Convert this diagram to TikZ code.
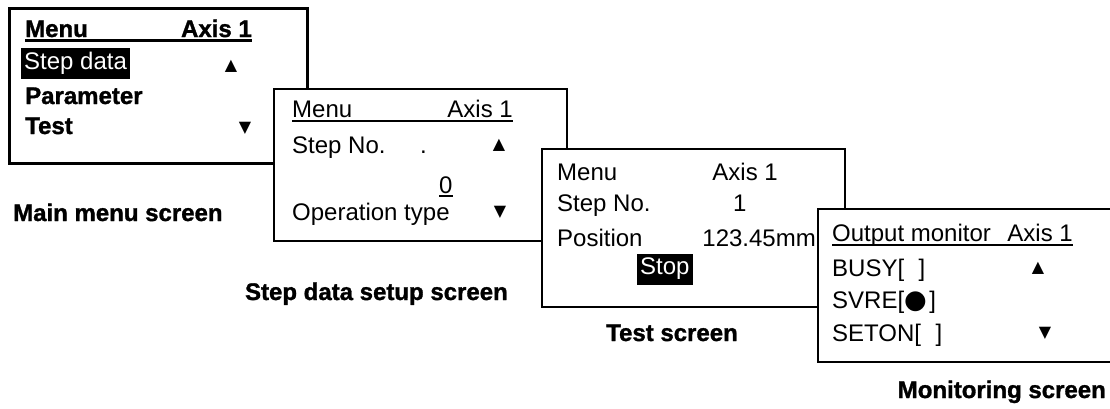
\documentclass[tikz,border=0pt]{standalone}
\usepackage{fontspec}
\setmainfont{Liberation Sans}
\newfontfamily\symfont{DejaVu Sans}
\newfontfamily\heavyfont{Liberation Sans Bold}[FakeBold=1.3]
\begin{document}
\begin{tikzpicture}[x=1pt,y=-1pt,
  screenA/.style={draw=black,fill=white,line width=3pt},
  screen/.style={draw=black,fill=white,line width=1.8pt},
  boldtxt/.style={font=\fontsize{24}{26}\selectfont\heavyfont,inner sep=0pt,anchor=base west},
  lcd/.style={font=\fontsize{24}{26}\selectfont,inner sep=0pt,anchor=base west},
  lcdr/.style={lcd,anchor=base east},
  caption/.style={font=\fontsize{24}{26}\selectfont\heavyfont,inner sep=0pt,anchor=base west},
  arrowsym/.style={font=\symfont\fontsize{16}{17}\selectfont,inner sep=0pt,anchor=center},
  inverse/.style={fill=black,text=white,inner xsep=3pt,inner ysep=0pt,anchor=west,minimum height=31pt},
  uline/.style={line width=1.6pt}]
\useasboundingbox (0,0) rectangle (1110,408);
% ---------- Main menu screen ----------
\draw[screenA] (9,8) rectangle (307,163);
\node[boldtxt] (amenu) at (25,37) {Menu};
\node[boldtxt,anchor=base east] (aaxis) at (252,37) {Axis 1};
\draw[line width=2.4pt] ([yshift=-3.5pt]amenu.base west) -- ([yshift=-3.5pt]aaxis.base east);
\node[inverse,font=\fontsize{24}{26}\selectfont] (astep) at (21,63) {Step data};
\node[arrowsym] (aup) at (231,66) {▲};
\node[boldtxt] (apar) at (25,104) {Parameter};
\node[boldtxt] (atest) at (25,134) {Test};
\node[arrowsym] (adown) at (245,128) {▼};
\node[caption] (acap) at (13,221) {Main menu screen};
% ---------- Step data setup screen ----------
\draw[screen] (274,89) rectangle (567,241);
\node[lcd] (bmenu) at (292,117) {Menu};
\node[lcdr] (baxis) at (513,117) {Axis 1};
\draw[uline] ([yshift=-4pt]bmenu.base west) -- ([yshift=-4pt]baxis.base east);
\node[lcd] (bstep) at (292,153) {Step No.};
\node[lcd] (bdot) at (420,153) {.};
\node[arrowsym] (bup) at (499,145) {▲};
\node[lcd] (bzero) at (439,193) {0};
\draw[line width=1.2pt] ([yshift=-3pt]bzero.base west) -- ([yshift=-3pt]bzero.base east);
\node[lcd] (bop) at (292,220) {Operation type};
\node[arrowsym] (bdown) at (500,212) {▼};
\node[caption,anchor=base east] (bcap) at (508,300) {Step data setup screen};
% ---------- Test screen ----------
\draw[screen] (542,149) rectangle (845,307);
\node[lcd] (cmenu) at (557,180) {Menu};
\node[lcdr] (caxis) at (778,180) {Axis 1};
\node[lcd] (cstep) at (557,211) {Step No.};
\node[lcd] (cone) at (733,211) {1};
\node[lcd] (cpos) at (557,246) {Position};
\node[lcdr] (cval) at (816,246) {123.45mm};
\node[inverse,font=\fontsize{24}{26}\selectfont] (cstop) at (637,269) {Stop};
\node[caption,anchor=base] (ccap) at (672,341) {Test screen};
% ---------- Monitoring screen ----------
\draw[screen] (818,209) rectangle (1125,362);
\node[lcd] (dout) at (832,241) {Output monitor};
\node[lcdr] (daxis) at (1073,241) {Axis 1};
\draw[uline] ([yshift=-4pt]dout.base west) -- ([yshift=-4pt]daxis.base east);
\node[lcd] (dbusy) at (832,276) {BUSY[\hspace{0.6em}]};
\node[arrowsym] (dup) at (1038,268) {▲};
\node[lcd] (dsvre) at (832,308) {SVRE[{\symfont\fontsize{26}{28}\selectfont ●}\hspace{0.1em}]};
\node[lcd] (dseton) at (832,341) {SETON[\hspace{0.6em}]};
\node[arrowsym] (ddown) at (1045,333) {▼};
\node[caption,anchor=base east] (dcap) at (1106,398) {Monitoring screen};
\end{tikzpicture}
\end{document}
